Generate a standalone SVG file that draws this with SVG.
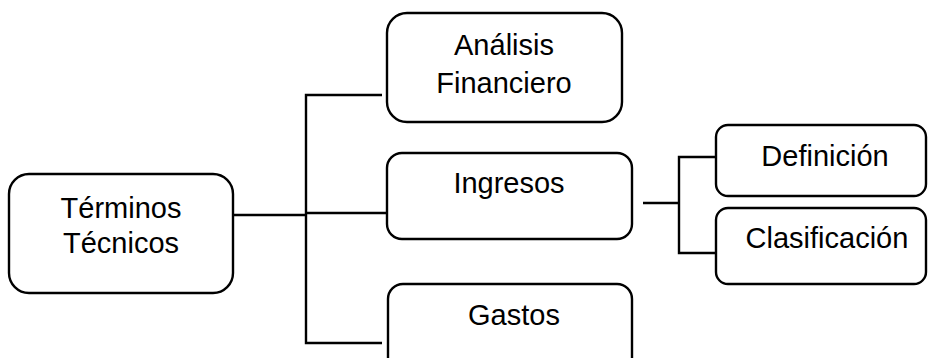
<svg xmlns="http://www.w3.org/2000/svg" width="928" height="358" viewBox="0 0 928 358">
<style>
.box{fill:#fff;stroke:#000;stroke-width:2.4}
.t{font-family:"Liberation Sans",Arial,sans-serif;font-size:29px;fill:#000;text-anchor:middle}
.c{fill:none;stroke:#000;stroke-width:2.4}
</style>
<rect width="928" height="358" fill="#fff"/>
<g id="connectors">
<path class="c" d="M382,95 H306 V343 H382"/>
<path class="c" d="M233,215 H306" stroke-width="3.2"/>
<path class="c" d="M306,213 H388" stroke-width="1"/>
<path class="c" d="M643,203 H679"/>
<path class="c" d="M715,157 H679 V253 H715"/>
</g>
<g id="terminos">
<rect class="box" x="9" y="174" width="224" height="119" rx="20"/>
<text class="t" x="121" y="218">Términos</text>
<text class="t" x="121" y="253">Técnicos</text>
</g>
<g id="analisis">
<rect class="box" x="387" y="13" width="235" height="109" rx="20"/>
<text class="t" x="504" y="55">Análisis</text>
<text class="t" x="504" y="93">Financiero</text>
</g>
<g id="ingresos">
<rect class="box" x="387" y="153" width="245" height="86" rx="15"/>
<text class="t" x="509" y="193">Ingresos</text>
</g>
<g id="gastos">
<rect class="box" x="388" y="284" width="244" height="90" rx="15"/>
<text class="t" x="514" y="325">Gastos</text>
</g>
<g id="definicion">
<rect class="box" x="716" y="125" width="210" height="71" rx="12"/>
<text class="t" x="825" y="166">Definición</text>
</g>
<g id="clasificacion">
<rect class="box" x="716" y="208" width="210" height="76" rx="12"/>
<text class="t" x="827" y="248">Clasificación</text>
</g>
</svg>
